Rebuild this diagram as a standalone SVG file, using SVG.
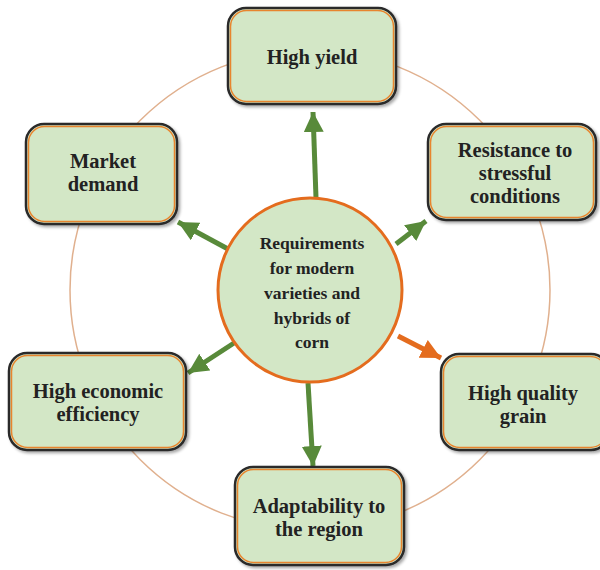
<svg xmlns="http://www.w3.org/2000/svg" width="600" height="570" viewBox="0 0 600 570">
<style>
.box{fill:#d3e7c6;stroke:#2a2a2a;stroke-width:2.5}
.inner{fill:none;stroke:#e8852e;stroke-width:1.5}
.t{font-family:"Liberation Serif","Times New Roman",serif;font-weight:bold;font-size:20.5px;fill:#222;text-anchor:middle}
.ct{font-family:"Liberation Serif","Times New Roman",serif;font-weight:bold;font-size:17.5px;fill:#222;text-anchor:middle}
.g{stroke:#588a3a;stroke-width:5;fill:none}
.o{stroke:#e46c1e;stroke-width:5;fill:none}
</style>
<defs>
<marker id="ag" markerUnits="userSpaceOnUse" markerWidth="24" markerHeight="24" refX="20" refY="10" orient="auto">
<path d="M0,0 L20,10 L0,20 Z" fill="#588a3a"/>
</marker>
<marker id="ao" markerUnits="userSpaceOnUse" markerWidth="24" markerHeight="24" refX="20" refY="10" orient="auto">
<path d="M0,0 L20,10 L0,20 Z" fill="#e46c1e"/>
</marker>
<filter id="sh" x="-10%" y="-10%" width="130%" height="130%">
<feDropShadow dx="2" dy="2" stdDeviation="1.5" flood-color="#000" flood-opacity="0.35"/>
</filter>
</defs>
<circle cx="310" cy="290" r="240" fill="none" stroke="#e0b08e" stroke-width="1.5"/>
<g id="connectors">
<line class="g" x1="316" y1="198" x2="313" y2="112" marker-end="url(#ag)"/>
<line class="g" x1="396" y1="244" x2="426" y2="221" marker-end="url(#ag)"/>
<line class="o" x1="398" y1="336" x2="441" y2="358" marker-end="url(#ao)"/>
<line class="g" x1="308" y1="383" x2="313" y2="466" marker-end="url(#ag)"/>
<line class="g" x1="234" y1="343" x2="188" y2="373" marker-end="url(#ag)"/>
<line class="g" x1="228" y1="249" x2="178" y2="222" marker-end="url(#ag)"/>
</g>
<g id="center">
<circle cx="310" cy="290" r="92" fill="#d3e7c6" stroke="#e46c1e" stroke-width="3"/>
<text class="ct" x="312" y="249">Requirements</text>
<text class="ct" x="312" y="274">for modern</text>
<text class="ct" x="312" y="299">varieties and</text>
<text class="ct" x="312" y="324">hybrids of</text>
<text class="ct" x="312" y="348">corn</text>
</g>
<g id="n1">
<rect class="box" x="228" y="8" width="168" height="96" rx="18" filter="url(#sh)"/>
<rect class="inner" x="230.5" y="10.5" width="163" height="91" rx="16"/>
<text class="t" x="312" y="64">High yield</text>
</g>
<g id="n2">
<rect class="box" x="428" y="124" width="168" height="96" rx="18" filter="url(#sh)"/>
<rect class="inner" x="430.5" y="126.5" width="163" height="91" rx="16"/>
<text class="t" x="515" y="157">Resistance to</text>
<text class="t" x="515" y="180">stressful</text>
<text class="t" x="515" y="203">conditions</text>
</g>
<g id="n3">
<rect class="box" x="441" y="354" width="168" height="96" rx="18" filter="url(#sh)"/>
<rect class="inner" x="443.5" y="356.5" width="163" height="91" rx="16"/>
<text class="t" x="523" y="400">High quality</text>
<text class="t" x="523" y="423">grain</text>
</g>
<g id="n4">
<rect class="box" x="235" y="467" width="169" height="98" rx="18" filter="url(#sh)"/>
<rect class="inner" x="237.5" y="469.5" width="164" height="93" rx="16"/>
<text class="t" x="319" y="513">Adaptability to</text>
<text class="t" x="319" y="536">the region</text>
</g>
<g id="n5">
<rect class="box" x="9" y="353" width="177" height="97" rx="18" filter="url(#sh)"/>
<rect class="inner" x="11.5" y="355.5" width="172" height="92" rx="16"/>
<text class="t" x="98" y="398">High economic</text>
<text class="t" x="98" y="421">efficiency</text>
</g>
<g id="n6">
<rect class="box" x="26" y="124" width="151" height="100" rx="18" filter="url(#sh)"/>
<rect class="inner" x="28.5" y="126.5" width="146" height="95" rx="16"/>
<text class="t" x="103" y="168">Market</text>
<text class="t" x="103" y="191">demand</text>
</g>
</svg>
